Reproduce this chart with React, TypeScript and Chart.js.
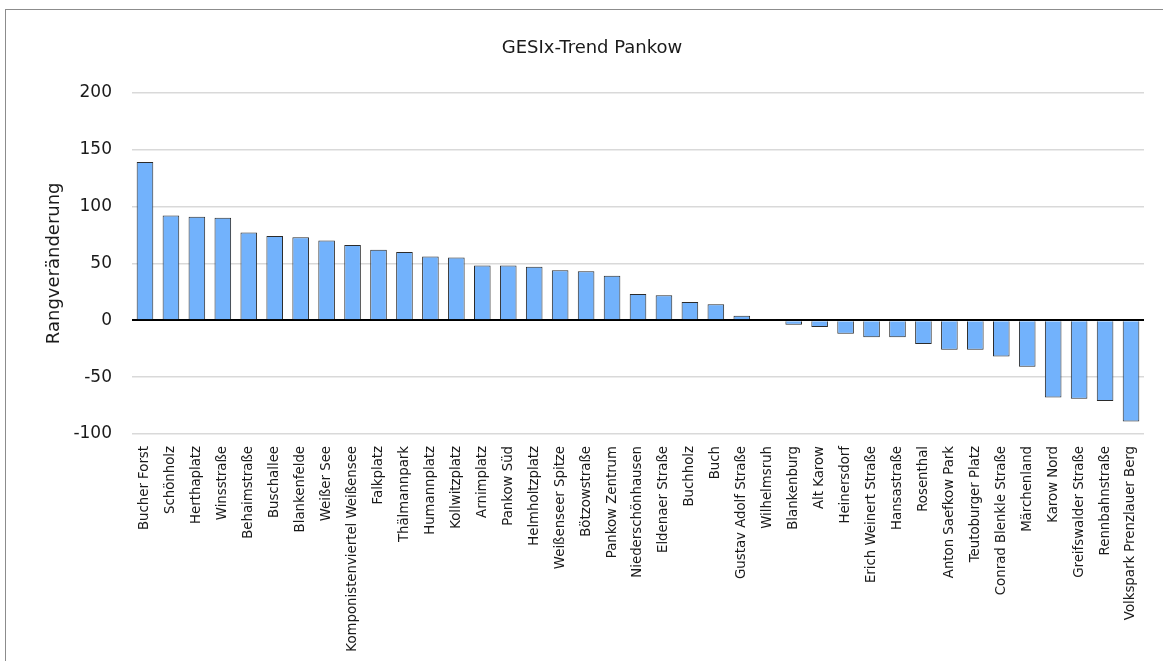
import React, { useEffect, useRef } from "react";
import { Chart, registerables } from "chart.js";

Chart.register(...registerables);

const categories = [
  "Bucher Forst", "Schönholz", "Herthaplatz", "Winsstraße", "Behaimstraße", "Buschallee",
  "Blankenfelde", "Weißer See", "Komponistenviertel Weißensee", "Falkplatz", "Thälmannpark",
  "Humannplatz", "Kollwitzplatz", "Arnimplatz", "Pankow Süd", "Helmholtzplatz",
  "Weißenseer Spitze", "Bötzowstraße", "Pankow Zentrum", "Niederschönhausen", "Eldenaer Straße",
  "Buchholz", "Buch", "Gustav Adolf Straße", "Wilhelmsruh", "Blankenburg", "Alt Karow",
  "Heinersdorf", "Erich Weinert Straße", "Hansastraße", "Rosenthal", "Anton Saefkow Park",
  "Teutoburger Platz", "Conrad Blenkle Straße", "Märchenland", "Karow Nord",
  "Greifswalder Straße", "Rennbahnstraße", "Volkspark Prenzlauer Berg",
];

const rankChange = [
  139, 92, 91, 90, 77, 74, 73, 70, 66, 62, 60, 56, 55, 48, 48, 47, 44, 43, 39, 23, 22, 16, 14,
  4, 1, -4, -6, -12, -15, -15, -21, -26, -26, -32, -41, -68, -69, -71, -89,
];

const yTicks = [-100, -50, 0, 50, 100, 150, 200];

const FONT = "'DejaVu Sans', sans-serif";

export default function App() {
  const canvasRef = useRef<HTMLCanvasElement | null>(null);

  useEffect(() => {
    const canvas = canvasRef.current;
    if (!canvas) return;
    const chart = new Chart(canvas, {
      type: "bar",
      data: {
        labels: categories,
        datasets: [
          {
            label: "Rangveränderung",
            data: rankChange,
            backgroundColor: "#72b2fc",
            borderColor: "#2b2b2b",
            borderWidth: 1,
            barPercentage: 0.64,
            categoryPercentage: 1,
          },
        ],
      },
      options: {
        animation: false,
        responsive: false,
        maintainAspectRatio: false,
        layout: { padding: { top: 30, left: 40, right: 19, bottom: 0 } },
        plugins: {
          legend: { display: false },
          tooltip: { enabled: false },
          title: {
            display: true,
            text: "GESIx-Trend Pankow",
            color: "#1a1a1a",
            font: { family: FONT, size: 18, weight: "normal" },
            padding: { top: 8, bottom: 33 },
          },
        },
        scales: {
          x: {
            grid: { display: false, drawTicks: false },
            border: { display: false },
            ticks: {
              autoSkip: false,
              maxRotation: 90,
              minRotation: 90,
              padding: 12,
              color: "#1a1a1a",
              font: { family: FONT, size: 13.3 },
            },
            afterFit: (scale: any) => {
              scale.height = 227;
            },
          },
          y: {
            min: -100,
            max: 200,
            afterBuildTicks: (scale: any) => {
              scale.ticks = yTicks.map((v) => ({ value: v }));
            },
            grid: {
              drawTicks: false,
              color: (ctx: any) => (ctx.tick && ctx.tick.value === 0 ? "#000" : "#d9d9d9"),
              lineWidth: (ctx: any) => (ctx.tick && ctx.tick.value === 0 ? 2 : 1.5),
            },
            border: { display: false },
            ticks: {
              padding: 20,
              color: "#1a1a1a",
              font: { family: FONT, size: 17 },
            },
            title: {
              display: true,
              text: "Rangveränderung",
              color: "#1a1a1a",
              font: { family: FONT, size: 18 },
              padding: { top: 4, bottom: 0 },
            },
            afterFit: (scale: any) => {
              scale.width = 92;
            },
          },
        },
      },
    });
    return () => chart.destroy();
  }, []);

  return (
    <div style={{ position: "absolute", left: 0, top: 0, width: 1163, height: 661, overflow: "hidden", background: "#fff" }}>
      <div
        style={{
          position: "absolute",
          left: 5,
          top: 9,
          width: 1200,
          height: 700,
          border: "1px solid #8c8c8c",
          boxSizing: "border-box",
        }}
      />
      <canvas
        ref={canvasRef}
        width={1163}
        height={661}
        style={{ position: "absolute", left: 0, top: 0, width: 1163, height: 661 }}
      />
    </div>
  );
}
